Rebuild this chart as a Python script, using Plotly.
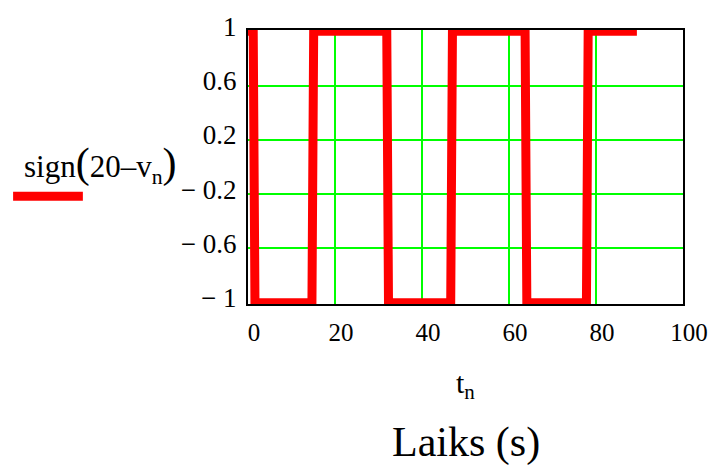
import plotly.graph_objects as go

# Switching signal sign(20 - v_n) sampled at times t_n (seconds)
t_n = [0, 1.2, 1.6, 14.7, 15.1, 31.9, 32.3, 46.6, 47.0, 63.7, 64.1, 77.8, 78.2, 89.4]
sign_v = [1, 1, -1, -1, 1, 1, -1, -1, 1, 1, -1, -1, 1, 1]

x_ticks = [0, 20, 40, 60, 80, 100]
x_tick_text = ["0", "20", "40", "60", "80", "100"]
y_ticks = [1, 0.6, 0.2, -0.2, -0.6, -1]
y_tick_text = ["1", "0.6", "0.2", "\u2212 0.2", "\u2212 0.6", "\u2212 1"]
y_grid = [0.6, 0.2, -0.2, -0.6]

RED = "#ff0000"
GREEN = "#00ff00"
SERIF = "Liberation Serif"
Y_RANGE = [-1.01, 1.01]

fig = go.Figure()
fig.add_trace(go.Scatter(
    x=t_n, y=sign_v, mode="lines",
    line=dict(color=RED, width=9),
    showlegend=False, hoverinfo="skip",
))
# empty trace so the grid axis is laid out
fig.add_trace(go.Scatter(
    x=[None], y=[None], yaxis="y2", mode="lines",
    showlegend=False, hoverinfo="skip",
))

fig.update_layout(
    width=720, height=466,
    margin=dict(l=247.5, r=36.5, t=23.5, b=162, pad=0),
    paper_bgcolor="white", plot_bgcolor="white",
    showlegend=False,
    font=dict(family=SERIF, color="black"),
    xaxis=dict(
        range=[0, 100], tickvals=x_ticks, ticktext=x_tick_text,
        showgrid=True, gridcolor=GREEN, gridwidth=2,
        zeroline=False, showline=True, linecolor="black", linewidth=2,
        mirror=True, ticks="", tickfont=dict(size=25, family=SERIF, color="black"),
        ticklabelshift=6, ticklabelstandoff=5, layer="below traces",
    ),
    yaxis=dict(
        range=Y_RANGE, tickvals=y_ticks, ticktext=y_tick_text,
        showgrid=False, zeroline=False, showline=True, linecolor="black",
        linewidth=2, mirror=True, ticks="",
        tickfont=dict(size=27, family=SERIF, color="black"),
        ticklabelshift=-5, ticklabelstandoff=4, layer="below traces",
    ),
    yaxis2=dict(
        range=Y_RANGE, overlaying="y", side="left", tickvals=y_grid,
        showticklabels=False, showgrid=True, gridcolor=GREEN, gridwidth=2,
        zeroline=False, showline=False, ticks="", layer="below traces",
    ),
)

# Trace label to the left of the plot, with a line sample beneath it
fig.add_annotation(
    text="sign<span style='font-size:42px'>(</span>20\u2013v<sub>n</sub>"
         "<span style='font-size:42px'>)</span>",
    xref="paper", yref="paper", x=-0.338, y=0.51,
    showarrow=False, font=dict(size=31, family=SERIF),
    xanchor="center", yanchor="middle",
)
fig.add_shape(
    type="line", xref="paper", yref="paper",
    x0=-0.540, x1=-0.3796, y0=0.393, y1=0.393,
    line=dict(color=RED, width=9),
)

# Axis variable and caption
fig.add_annotation(
    text="t<sub>n</sub>", xref="paper", yref="paper", x=0.5, y=-0.295,
    showarrow=False, font=dict(size=30, family=SERIF),
    xanchor="center", yanchor="middle",
)
fig.add_annotation(
    text="Laiks (s)", xref="paper", yref="paper", x=0.5, y=-0.505,
    showarrow=False, font=dict(size=42, family=SERIF),
    xanchor="center", yanchor="middle",
)

fig.write_html("out.html")
